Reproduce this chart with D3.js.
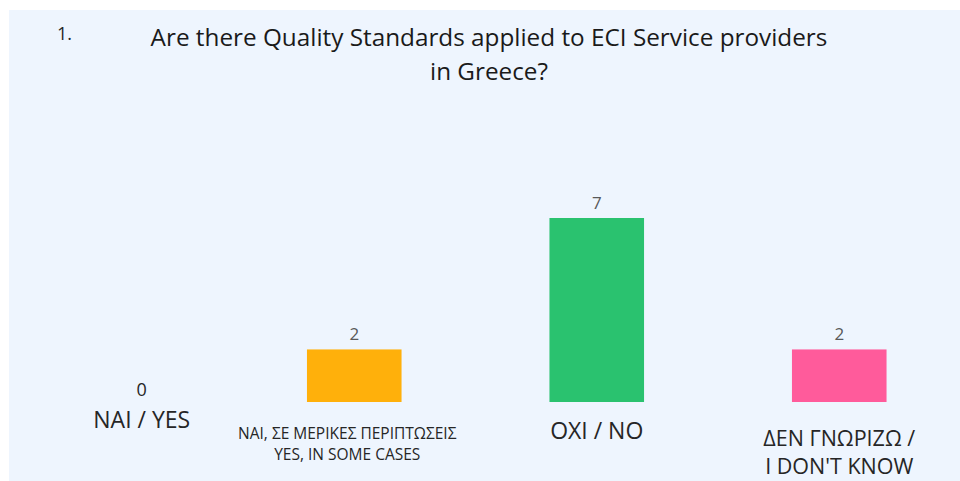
<!DOCTYPE html>
<html>
<head>
<meta charset="utf-8">
<script src="https://cdn.jsdelivr.net/npm/d3@7"></script>
<style>
  body { margin: 0; background: #fff; }
  text { font-family: "Open Sans", "Noto Sans", sans-serif; }
</style>
</head>
<body>
<div id="chart"></div>
<script>
// chart data
var categories = ["NAI / YES", "NAI, ΣΕ ΜΕΡΙΚΕΣ ΠΕΡΙΠΤΩΣΕΙΣ|YES, IN SOME CASES", "OXI / NO", "ΔΕΝ ΓΝΩΡΙΖΩ /|I DON'T KNOW"];
var counts = [0, 2, 7, 2];
var barColors = ["#4472c4", "#ffb00b", "#2ac26f", "#ff5b9b"];
var titleLines = ["Are there Quality Standards applied to ECI Service providers", "in Greece?"];

var svgWidth = 960, svgHeight = 481;
var margin = { top: 0, bottom: 79, left: -9.5, right: -0.5 };
var height = svgHeight - margin.top - margin.bottom;
var width = svgWidth - margin.left - margin.right;

var svg = d3.select("#chart").append("svg")
  .attr("width", svgWidth)
  .attr("height", svgHeight);

// light panel
svg.append("rect")
  .attr("x", 9).attr("y", 10)
  .attr("width", svgWidth - 9).attr("height", svgHeight - 10)
  .attr("fill", "#eef5fe");

// title
svg.append("text")
  .attr("x", 57).attr("y", 40)
  .attr("font-size", 18)
  .attr("fill", "#262626")
  .text("1.");

svg.selectAll(".title")
  .data(titleLines)
  .enter()
  .append("text")
  .attr("class", "title")
  .attr("x", 489)
  .attr("y", (d, i) => 46 + i * 34)
  .attr("text-anchor", "middle")
  .attr("font-size", 24.3)
  .attr("fill", "#1a1a1a")
  .text(d => d);

var chartGroup = svg.append("g")
  .attr("transform", `translate(${margin.left}, ${margin.top})`);

var xScale = d3.scaleBand()
  .domain(categories)
  .range([0, width])
  .paddingInner(0.61)
  .paddingOuter(0.305);

var yScale = d3.scaleLinear()
  .domain([0, 7])
  .range([height, height - 184]);

// bars
chartGroup.selectAll(".bar")
  .data(counts)
  .enter()
  .append("rect")
  .attr("class", "bar")
  .attr("x", (d, i) => xScale(categories[i]))
  .attr("y", d => yScale(d))
  .attr("width", xScale.bandwidth())
  .attr("height", d => height - yScale(d))
  .attr("fill", (d, i) => barColors[i]);

// the first column's labels were moved a bit to the right in the original
var labelShift = [30, 0, 0, 0];
var catShift = [30, -7, 0, 0];
var valueStyle = [
  { size: 18, color: "#262626", dy: -6 },
  { size: 17, color: "#595959", dy: -9 },
  { size: 17, color: "#595959", dy: -9 },
  { size: 17, color: "#595959", dy: -9 }
];

chartGroup.selectAll(".value")
  .data(counts)
  .enter()
  .append("text")
  .attr("class", "value")
  .attr("x", (d, i) => xScale(categories[i]) + xScale.bandwidth() / 2 + labelShift[i])
  .attr("y", (d, i) => yScale(d) + valueStyle[i].dy)
  .attr("text-anchor", "middle")
  .attr("font-size", (d, i) => valueStyle[i].size)
  .attr("fill", (d, i) => valueStyle[i].color)
  .text(d => d);

// category labels
var catStyle = [
  { size: 23, y: 26, gap: 24 },
  { size: 15.5, y: 37, gap: 21 },
  { size: 23, y: 37, gap: 24 },
  { size: 21.5, y: 44, gap: 28 }
];

categories.forEach(function(c, i) {
  var lines = c.split("|");
  chartGroup.selectAll(".cat" + i)
    .data(lines)
    .enter()
    .append("text")
    .attr("x", xScale(c) + xScale.bandwidth() / 2 + catShift[i])
    .attr("y", (d, j) => height + catStyle[i].y + j * catStyle[i].gap)
    .attr("text-anchor", "middle")
    .attr("font-size", catStyle[i].size)
    .attr("fill", "#262626")
    .text(d => d);
});
</script>
</body>
</html>
